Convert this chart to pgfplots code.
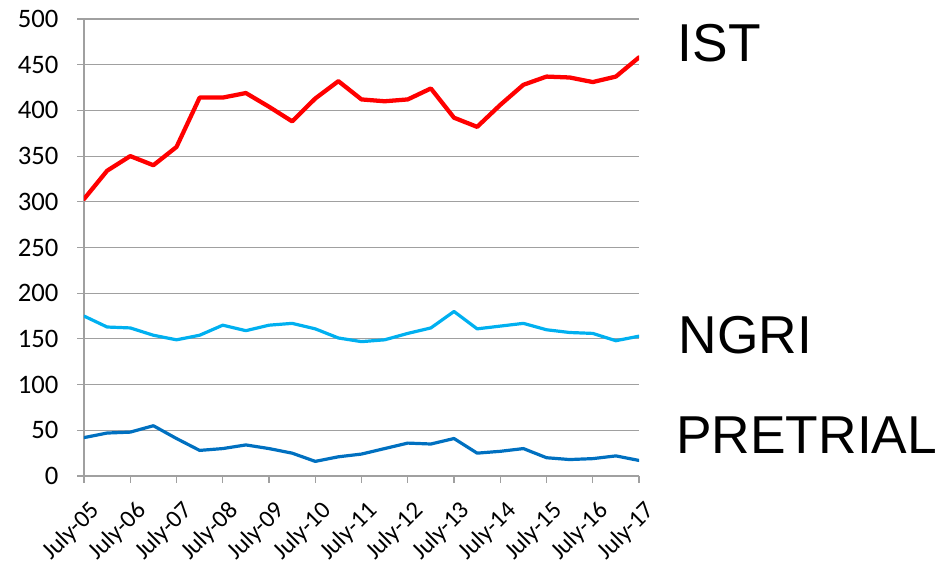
\documentclass[border=0pt]{standalone}
\usepackage{pgfplots}
\pgfplotsset{compat=1.18}
\usepackage{fontspec}
\setmainfont{Carlito}
\newfontfamily\arialfont{Liberation Sans}
\definecolor{gridgray}{HTML}{A0A0A0}
\definecolor{istred}{HTML}{FF0000}
\definecolor{ngriblue}{HTML}{00B0F0}
\definecolor{preblue}{HTML}{0070C0}
\begin{document}
\begin{tikzpicture}
\useasboundingbox (-63pt,-67.5pt) rectangle (648pt,357pt);
\begin{axis}[
  at={(0,0)}, anchor=south west,
  scale only axis, width=416.25pt, height=342.75pt,
  xmin=0, xmax=24, ymin=0, ymax=500,
  axis x line=bottom, axis y line=left,
  axis line style={-, gridgray, line width=0.9pt},
  xtick={0,2,...,24},
  xticklabels={July-05,July-06,July-07,July-08,July-09,July-10,July-11,July-12,July-13,July-14,July-15,July-16,July-17},
  ytick={0,50,...,500},
  ymajorgrids, grid style={gridgray, line width=0.8pt},
  tick align=outside, major tick length=5pt,
  tick style={gridgray, line width=0.8pt},
  yticklabel style={font=\fontsize{20}{22}\selectfont},
  xticklabel style={font=\fontsize{18.5}{20}\selectfont},
  /pgf/number format/assume math mode=true,
  xticklabel style={xshift=3.5pt, yshift=-11pt, rotate=45, anchor=north east, inner sep=1pt},
  yticklabel style={inner sep=2pt, xshift=-12pt},
  clip=true,
  every axis plot/.append style={line join=round, line cap=round},
]
\addplot[istred, line width=3.2pt] coordinates {
(0,303)(1,334)(2,350)(3,340)(4,360)(5,414)(6,414)(7,419)(8,404)(9,388)(10,413)(11,432)(12,412)
(13,410)(14,412)(15,424)(16,392)(17,382)(18,406)(19,428)(20,437)(21,436)(22,431)(23,437)(24,458)};
\addplot[ngriblue, line width=2.4pt] coordinates {
(0,175)(1,163)(2,162)(3,154)(4,149)(5,154)(6,165)(7,159)(8,165)(9,167)(10,161)(11,151)(12,147)
(13,149)(14,156)(15,162)(16,180)(17,161)(18,164)(19,167)(20,160)(21,157)(22,156)(23,148)(24,153)};
\addplot[preblue, line width=2.4pt] coordinates {
(0,42)(1,47)(2,48)(3,55)(4,41)(5,28)(6,30)(7,34)(8,30)(9,25)(10,16)(11,21)(12,24)
(13,30)(14,36)(15,35)(16,41)(17,25)(18,27)(19,30)(20,20)(21,18)(22,19)(23,22)(24,17)};
\end{axis}
\node[anchor=west, inner sep=0pt, font=\arialfont\fontsize{40}{40}\selectfont] at (445pt,324.75pt) {IST};
\node[anchor=west, inner sep=0pt, font=\arialfont\fontsize{40}{40}\selectfont] at (446pt,105.75pt) {NGRI};
\node[anchor=west, inner sep=0pt, font=\arialfont\fontsize{40}{40}\selectfont] at (444pt,30.75pt) {PRETRIAL};
\end{tikzpicture}
\end{document}
